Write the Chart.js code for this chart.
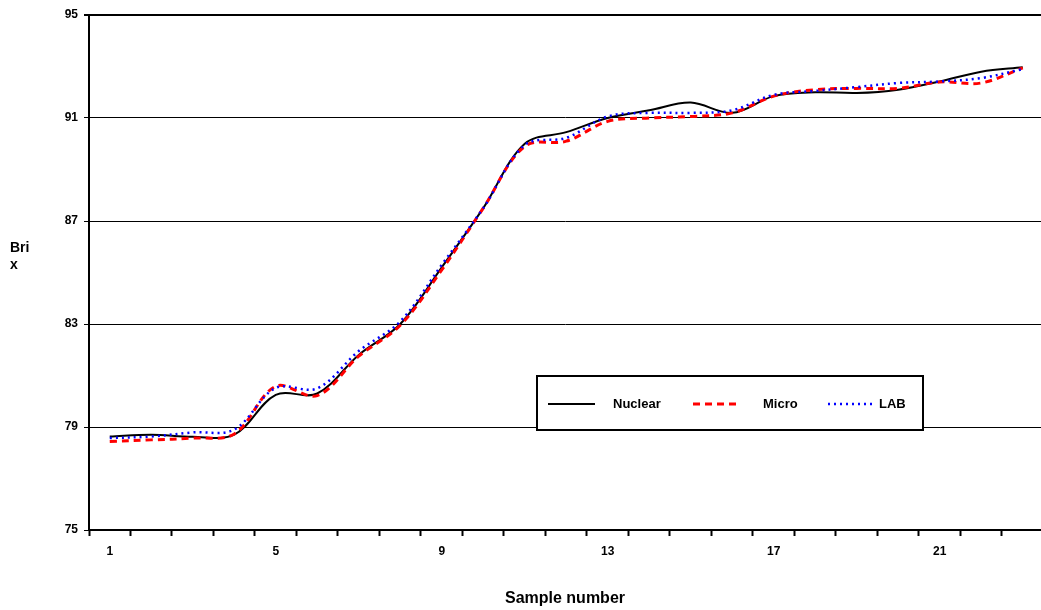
<!DOCTYPE html>
<html>
<head>
<meta charset="utf-8">
<script src="https://cdn.jsdelivr.net/npm/chart.js@4/dist/chart.umd.min.js"></script>
<style>
  body { margin: 0; background: #fff; }
  canvas { display: block; }
</style>
</head>
<body>
<canvas id="chart" width="1041" height="610" style="width:1041px;height:610px"></canvas>
<script>
const samples = [1, 2, 3, 4, 5, 6, 7, 8, 9, 10, 11, 12, 13, 14, 15, 16, 17, 18, 19, 20, 21, 22, 23];
const nuclear = [78.63, 78.7, 78.62, 78.7, 80.25, 80.3, 81.8, 83.0, 85.2, 87.5, 90.0, 90.45, 91.0, 91.3, 91.6, 91.2, 91.85, 92.0, 91.97, 92.1, 92.42, 92.8, 92.97];
const micro = [78.44, 78.5, 78.57, 78.73, 80.58, 80.22, 81.75, 82.95, 85.1, 87.5, 89.9, 90.1, 90.87, 91.0, 91.06, 91.2, 91.85, 92.1, 92.15, 92.15, 92.4, 92.36, 92.95];
const lab = [78.57, 78.63, 78.79, 78.9, 80.52, 80.5, 81.95, 83.1, 85.3, 87.5, 89.95, 90.23, 91.06, 91.2, 91.2, 91.3, 91.9, 92.05, 92.2, 92.36, 92.42, 92.55, 92.9];
const shownLabels = [1, 5, 9, 13, 17, 21];
const yTicks = [75, 79, 83, 87, 91, 95];

const FONT = "Arial, 'Liberation Sans', sans-serif";
const pts = (vals) => samples.map((s, i) => ({ x: s, y: vals[i] }));
const isHalf = (v) => Math.abs(v - Math.floor(v) - 0.5) < 0.01;

// legend box + y title drawn by hand, like the original
const extras = {
  id: "extras",
  afterDraw(chart) {
    const c = chart.ctx;
    c.save();
    c.fillStyle = "#000";
    c.font = "bold 14px " + FONT;
    c.textBaseline = "middle";
    c.textAlign = "left";
    c.fillText("Bri", 10, 248);
    c.fillText("x", 10, 265);

    c.fillStyle = "#fff";
    c.fillRect(537, 376, 386, 54);
    c.strokeStyle = "#000";
    c.lineWidth = 2;
    c.strokeRect(537, 376, 386, 54);

    c.font = "bold 13px " + FONT;
    const items = [
      { ds: chart.data.datasets[0], x1: 548, x2: 595, tx: 613 },
      { ds: chart.data.datasets[1], x1: 693, x2: 740, tx: 763 },
      { ds: chart.data.datasets[2], x1: 828, x2: 872, tx: 879 },
    ];
    items.forEach((it) => {
      c.beginPath();
      c.strokeStyle = it.ds.borderColor;
      c.lineWidth = it.ds.borderWidth;
      c.setLineDash(it.ds.borderDash || []);
      c.moveTo(it.x1, 404);
      c.lineTo(it.x2, 404);
      c.stroke();
      c.setLineDash([]);
      c.fillStyle = "#000";
      c.fillText(it.ds.label, it.tx, 404);
    });
    c.restore();
  },
};

new Chart(document.getElementById("chart"), {
  type: "line",
  data: {
    datasets: [
      {
        label: "Nuclear",
        data: pts(nuclear),
        borderColor: "#000000",
        borderWidth: 2,
        order: 2,
      },
      {
        label: "Micro",
        data: pts(micro),
        borderColor: "#ff0000",
        borderWidth: 3,
        borderDash: [7, 5],
        order: 1,
      },
      {
        label: "LAB",
        data: pts(lab),
        borderColor: "#0000ff",
        borderWidth: 2.5,
        borderDash: [2, 4],
        order: 0,
      },
    ],
  },
  options: {
    responsive: false,
    animation: false,
    layout: { padding: { top: 15, right: 0, bottom: 0, left: 0 } },
    elements: {
      point: { radius: 0 },
      line: { tension: 0.35, fill: false },
    },
    plugins: {
      legend: { display: false },
      tooltip: { enabled: false },
    },
    scales: {
      x: {
        type: "linear",
        min: 0.5,
        max: 23.44,
        afterFit: (s) => { s.height = 80; s.paddingLeft = 0; s.paddingRight = 0; },
        border: { display: true, color: "#000", width: 2 },
        grid: {
          drawOnChartArea: false,
          drawTicks: true,
          tickLength: 6,
          tickWidth: 2,
          tickColor: (ctx) => (ctx.tick && isHalf(ctx.tick.value) ? "#000" : "rgba(0,0,0,0)"),
        },
        ticks: {
          stepSize: 0.5,
          maxTicksLimit: 1000,
          autoSkip: false,
          maxRotation: 0,
          padding: 8,
          color: "#000",
          font: { family: FONT, size: 12, weight: "bold" },
          callback: (v) => (shownLabels.includes(v) ? String(v) : ""),
        },
        title: {
          display: true,
          text: "Sample number",
          color: "#000",
          font: { family: FONT, size: 16, weight: "bold" },
          padding: { top: 0, bottom: 2 },
        },
      },
      y: {
        min: 75,
        max: 95,
        afterFit: (s) => { s.width = 89; },
        afterBuildTicks: (s) => { s.ticks = yTicks.map((v) => ({ value: v })); },
        border: { display: true, color: "#000", width: 2 },
        grid: {
          color: "#000",
          lineWidth: (ctx) => (ctx.tick && ctx.tick.value === 95 ? 2 : 1),
          tickLength: 5,
          tickColor: "#000",
        },
        ticks: {
          padding: 6,
          color: "#000",
          font: { family: FONT, size: 12, weight: "bold" },
        },
      },
    },
  },
  plugins: [extras],
});
</script>
</body>
</html>
